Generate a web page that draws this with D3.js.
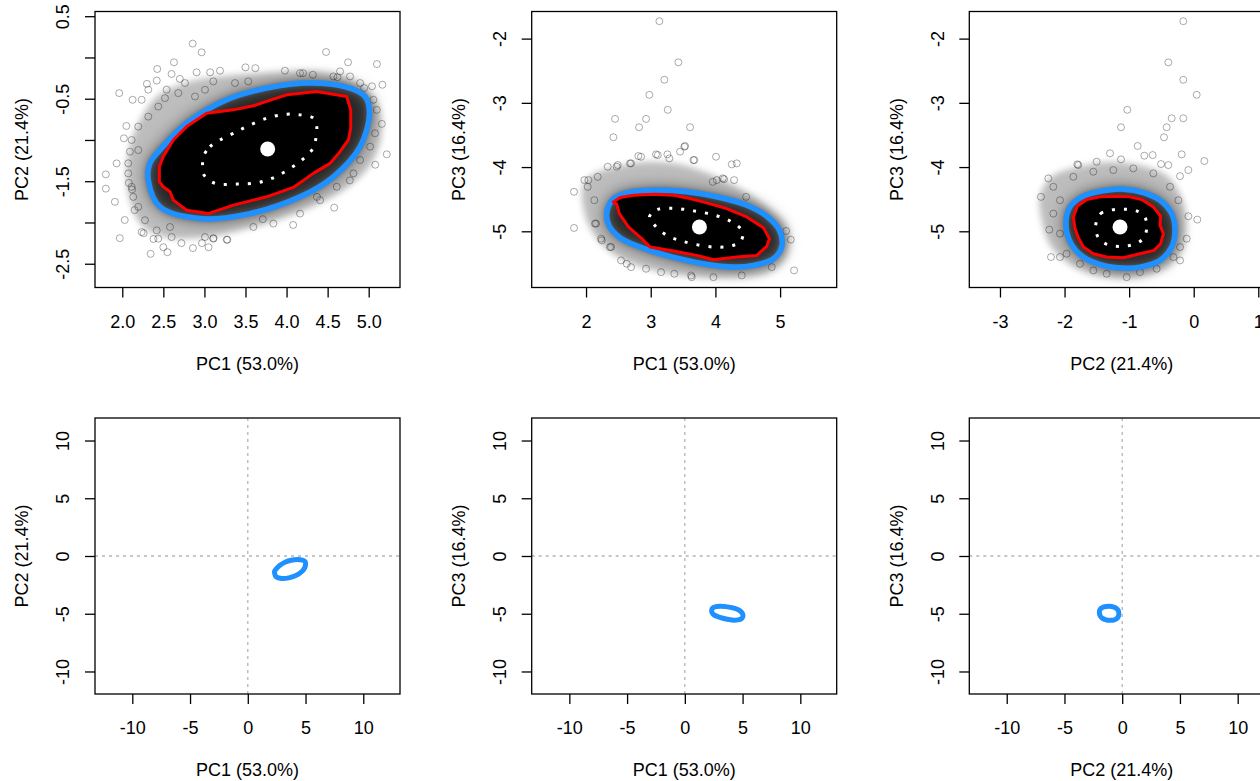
<!DOCTYPE html>
<html>
<head>
<meta charset="utf-8">
<script src="https://cdn.jsdelivr.net/npm/d3@7"></script>
<style>
  html, body { margin: 0; padding: 0; background: #fff; overflow: hidden; }
  svg text { font-family: "Liberation Sans", Arial, sans-serif; font-size: 18px; fill: #000; }
</style>
</head>
<body>
<div id="chart"></div>
<script>
// ---- data ----

// axis titles
const pc1Label = "PC1 (53.0%)";
const pc2Label = "PC2 (21.4%)";
const pc3Label = "PC3 (16.4%)";

// tick values (labelled ones listed separately, R drops overlapping labels)
const pc1pc2XTicks = [2.0, 2.5, 3.0, 3.5, 4.0, 4.5, 5.0];
const pc1pc2YTicks = [0.5, 0, -0.5, -1, -1.5, -2, -2.5];
const pc1pc2YLabelled = [0.5, -0.5, -1.5, -2.5];
const pc1pc3XTicks = [2, 3, 4, 5];
const pc2pc3XTicks = [-3, -2, -1, 0, 1];
const pc3YTicks = [-2, -3, -4, -5];
const wideTicks = [-10, -5, 0, 5, 10];

// centre of the cloud (white dot)
const pc1pc2Centre = [3.77, -1.109];
const pc1pc3Centre = [3.753, -4.932];
const pc2pc3Centre = [-1.141, -4.932];

// blue ellipse
const pc1pc2Blue = [[2.317,-1.486],[2.459,-1.81],[2.946,-1.952],[3.555,-1.892],[4.164,-1.689],[4.57,-1.446],
  [4.895,-1.081],[5.009,-0.675],[4.956,-0.473],[4.73,-0.36],[4.286,-0.31],[3.758,-0.372],[3.271,-0.513],
  [2.78,-0.80],[2.459,-1.12],[2.337,-1.28]];
const pc1pc3Blue = [[2.32,-4.724],[2.412,-4.505],[2.629,-4.401],[3.041,-4.359],[3.557,-4.385],[4.072,-4.474],
  [4.485,-4.594],[4.794,-4.766],[4.99,-4.984],[5.026,-5.234],[4.897,-5.427],[4.588,-5.531],[4.278,-5.557],
  [3.814,-5.505],[3.299,-5.391],[2.835,-5.245],[2.526,-5.099],[2.361,-4.922]];
const pc2pc3Blue = [[-1.978,-4.88],[-1.916,-4.62],[-1.709,-4.453],[-1.4,-4.37],[-1.09,-4.344],[-0.78,-4.396],
  [-0.522,-4.516],[-0.341,-4.724],[-0.29,-4.984],[-0.341,-5.245],[-0.522,-5.453],[-0.832,-5.557],
  [-1.09,-5.573],[-1.4,-5.531],[-1.709,-5.401],[-1.906,-5.182]];

// red contour
const pc1pc2Red = [[2.451,-1.507],[2.451,-1.324],[2.499,-1.202],[2.621,-1.0],[2.784,-0.838],[3.027,-0.676],
  [3.352,-0.635],[3.596,-0.586],[3.839,-0.505],[4.002,-0.453],[4.367,-0.412],[4.732,-0.473],[4.781,-0.635],
  [4.781,-0.858],[4.753,-1.0],[4.651,-1.142],[4.53,-1.284],[4.326,-1.405],[4.083,-1.575],[3.758,-1.689],
  [3.352,-1.79],[3.047,-1.892],[2.784,-1.851],[2.621,-1.729],[2.581,-1.628],[2.499,-1.567]];
const pc1pc3Red = [[2.423,-4.542],[2.526,-4.474],[2.732,-4.438],[3.041,-4.422],[3.351,-4.438],[3.608,-4.49],
  [3.866,-4.557],[4.175,-4.646],[4.485,-4.776],[4.742,-4.943],[4.835,-5.115],[4.794,-5.234],[4.639,-5.375],
  [4.33,-5.401],[3.969,-5.443],[3.711,-5.375],[3.351,-5.307],[2.99,-5.245],[2.861,-5.115],[2.655,-4.932],
  [2.515,-4.724],[2.474,-4.578]];
const pc2pc3Red = [[-1.864,-4.776],[-1.802,-4.609],[-1.658,-4.505],[-1.451,-4.464],[-1.193,-4.453],
  [-0.987,-4.464],[-0.806,-4.505],[-0.625,-4.62],[-0.512,-4.766],[-0.522,-4.906],[-0.47,-5.036],
  [-0.512,-5.193],[-0.615,-5.297],[-0.832,-5.349],[-1.09,-5.411],[-1.348,-5.401],[-1.554,-5.349],
  [-1.709,-5.245],[-1.787,-5.099],[-1.838,-4.958]];

// white dotted inner contour
const pc1pc2Inner = [[2.987,-1.202],[3.068,-1.081],[3.19,-1.0],[3.352,-0.919],[3.514,-0.838],[3.758,-0.736],
  [4.002,-0.688],[4.164,-0.696],[4.326,-0.736],[4.367,-0.838],[4.359,-0.959],[4.335,-1.081],[4.266,-1.17],
  [4.144,-1.275],[3.981,-1.385],[3.819,-1.466],[3.636,-1.519],[3.393,-1.535],[3.129,-1.527],[2.995,-1.425],
  [2.978,-1.316]];
const pc1pc3Inner = [[2.979,-4.776],[3.103,-4.661],[3.351,-4.641],[3.66,-4.682],[3.995,-4.75],[4.253,-4.854],
  [4.423,-5.01],[4.381,-5.167],[4.201,-5.234],[3.969,-5.245],[3.686,-5.203],[3.479,-5.151],[3.325,-5.099],
  [3.155,-5.0],[3.041,-4.88]];
const pc2pc3Inner = [[-1.503,-4.828],[-1.441,-4.724],[-1.296,-4.672],[-1.09,-4.656],[-0.883,-4.682],
  [-0.754,-4.786],[-0.728,-4.943],[-0.77,-5.099],[-0.894,-5.193],[-1.09,-5.234],[-1.296,-5.219],
  [-1.441,-5.141],[-1.513,-5.01]];

// outer edge of the dense point cloud
const pc1pc2Fringe = [[2.10,-1.05],[2.25,-0.70],[2.45,-0.45],[2.80,-0.30],[3.30,-0.22],[3.90,-0.18],[4.40,-0.17],
  [4.85,-0.30],[5.10,-0.55],[5.15,-0.95],[5.02,-1.30],[4.70,-1.60],[4.20,-1.85],[3.60,-2.05],[3.00,-2.18],
  [2.55,-2.18],[2.25,-2.05],[2.10,-1.75],[2.05,-1.40]];
const pc1pc3Fringe = [[1.95,-4.30],[2.10,-4.12],[2.45,-4.00],[2.90,-3.92],[3.40,-3.95],[3.90,-4.10],[4.40,-4.35],
  [4.85,-4.65],[5.12,-4.95],[5.10,-5.40],[4.80,-5.65],[4.20,-5.72],[3.60,-5.70],[2.95,-5.58],[2.50,-5.40],
  [2.20,-5.15],[2.00,-4.80]];
const pc2pc3Fringe = [[-2.38,-4.45],[-2.20,-4.15],[-1.80,-4.00],[-1.30,-3.92],[-0.80,-3.98],[-0.40,-4.15],
  [-0.18,-4.50],[-0.12,-4.90],[-0.18,-5.30],[-0.40,-5.55],[-0.90,-5.72],[-1.40,-5.70],[-1.85,-5.55],
  [-2.20,-5.25],[-2.35,-4.85]];

// single points visible around the dense cloud
const pc1pc2Outliers = [[2.857,0.168],[2.966,0.062],[2.629,-0.059],[2.426,-0.14],[4.481,0.066],[4.749,-0.059],
  [5.10,-0.08],[3.98,-0.16],[2.905,-0.18],[3.07,-0.18],[3.19,-0.16],[1.963,-0.432],[2.126,-0.513],
  [5.167,-0.331],[5.04,-0.35],[4.945,-0.37],[2.05,-0.83],[2.02,-0.98],[5.16,-0.805],[5.22,-1.174],
  [5.08,-1.30],[1.80,-1.417],[1.80,-1.59],[1.931,-1.284],[1.91,-1.75],[2.03,-1.97],[1.97,-2.19],
  [2.345,-2.38],[2.50,-2.30],[2.72,-2.25],[2.97,-2.25],[3.28,-2.21],[3.11,-2.19],[4.08,-2.03],
  [4.58,-1.82],[4.37,-1.69],[4.77,-1.49],[3.71,-1.96],[2.26,-2.13],[2.30,-0.32],[2.42,-0.28],
  [3.50,-0.12],[3.62,-0.13],[4.20,-0.19],[4.32,-0.21],[4.62,-0.24],[2.60,-0.20],[2.70,-0.26],
  [2.12,-1.60],[2.08,-1.52],[2.15,-1.85],[2.38,-2.20],[2.55,-2.36],[2.86,-2.31],[3.05,-2.30],
  [2.236,-0.513],[2.317,-0.39],[2.54,-0.39],[2.763,-0.31],[3.534,-0.29],[2.195,-0.838],[2.073,-1.405],
  [2.114,-1.568],[2.134,-1.69],[2.195,-1.811],[2.276,-1.973],[2.236,-2.116],[2.419,-2.095],[2.581,-2.055],
  [2.438,-2.196],[2.601,-2.176],[3.007,-2.176],[3.108,-2.196],[3.271,-2.208],[2.114,-1.0],[2.195,-1.122],
  [2.094,-1.142],[2.073,-1.283],[2.317,-0.717],[2.438,-0.595],[2.52,-0.493],[2.682,-0.432],[2.885,-0.473],
  [3.007,-0.392],[3.108,-0.29],[3.372,-0.31],[5.057,-0.513],[5.098,-0.635],[5.077,-0.919],[5.017,-1.081],
  [4.895,-1.243],[4.814,-1.405],[4.611,-1.567],[4.408,-1.73],[4.164,-1.892],[3.839,-2.013],[3.596,-2.054],
  [4.57,-0.23],[4.773,-0.23],[4.895,-0.31],[4.164,-0.19],[4.651,-0.169]];
const pc1pc3Outliers = [[3.134,-1.729],[3.428,-2.37],[3.211,-2.641],[2.979,-2.875],[3.263,-3.109],
  [2.448,-3.25],[2.928,-3.25],[2.82,-3.38],[3.608,-3.38],[2.423,-3.536],[3.531,-3.672],[2.809,-3.828],
  [3.082,-3.802],[3.258,-3.802],[3.454,-3.76],[3.66,-3.891],[4.253,-3.958],[4.33,-3.943],[4.021,-4.203],
  [4.134,-4.188],[4.289,-4.203],[4.474,-4.464],[1.814,-4.385],[1.814,-4.948],[2.036,-4.203],[2.139,-4.88],
  [2.242,-5.141],[2.371,-5.245],[5.093,-4.995],[5.165,-5.13],[5.216,-5.609],[4.871,-5.557],[4.407,-5.687],
  [3.969,-5.714],[3.634,-5.714],[2.629,-5.505],[2.474,-3.995],[2.68,-3.943],
  [1.974,-4.203],[2.128,-4.516],[2.155,-4.88],[2.232,-5.114],[2.49,-3.969],[2.696,-3.943],[2.85,-3.839],
  [3.109,-3.813],[3.288,-3.865],[3.52,-3.683],[3.675,-3.891],[4.01,-3.839],[4.114,-4.177],[3.959,-4.23],
  [2.387,-5.245],[2.541,-5.453],[2.696,-5.558],[2.928,-5.583],[3.16,-5.636],[3.365,-5.661],[3.624,-5.688],
  [2.335,-3.995],[2.181,-4.152],[2.026,-4.308]];
const pc2pc3Outliers = [[-0.161,-1.729],[-0.393,-2.37],[-0.161,-2.641],[0.046,-2.875],[-1.028,-3.109],
  [-0.341,-3.24],[-0.161,-3.24],[-1.126,-3.38],[-0.419,-3.38],[-0.46,-3.536],[-0.868,-3.672],
  [-0.186,-3.802],[0.165,-3.906],[-1.296,-3.786],[-1.126,-3.88],[-0.765,-3.823],[-0.636,-3.813],
  [-0.506,-3.953],[-0.393,-3.969],[-0.083,-4.047],[-0.212,-4.141],[-1.787,-3.969],[-1.503,-3.917],
  [-2.365,-4.464],[-2.251,-4.177],[-2.236,-4.974],[-2.21,-5.401],[-0.083,-4.766],[0.056,-4.818],
  [-0.109,-5.115],[-0.212,-5.453],[-1.038,-5.714],[-2.071,-5.401],
  [-2.174,-4.307],[-2.071,-4.516],[-2.174,-4.724],[-2.071,-5.036],[-1.967,-5.349],[-1.761,-5.505],
  [-1.554,-5.609],[-1.348,-5.661],[-0.832,-5.635],[-0.574,-5.583],[-0.315,-5.401],[-0.212,-5.245],
  [-0.238,-4.516],[-0.367,-4.307],[-0.625,-4.099],[-0.935,-4.021],[-1.245,-4.047],[-1.554,-4.073],
  [-1.864,-4.151],[-1.802,-3.958]];

// ---- layout ----
const width = 1260, height = 781;
const boxW = 305, boxH = 276;
const colX = [95, 531.7, 969.3];
const rowY = [11.5, 418];

const panels = [
  { col: 0, row: 0, xDomain: [1.668, 5.381], yDomain: [-2.788, 0.557],
    xTicks: pc1pc2XTicks, xFmt: d3.format(".1f"), yTicks: pc1pc2YTicks, yLabelled: pc1pc2YLabelled,
    xTitle: pc1Label, yTitle: pc2Label, cloud: { fringe: pc1pc2Fringe, blue: pc1pc2Blue, red: pc1pc2Red,
    inner: pc1pc2Inner, centre: pc1pc2Centre, outliers: pc1pc2Outliers } },
  { col: 1, row: 0, xDomain: [1.160, 5.875], yDomain: [-5.875, -1.578],
    xTicks: pc1pc3XTicks, yTicks: pc3YTicks, xTitle: pc1Label, yTitle: pc3Label,
    cloud: { fringe: pc1pc3Fringe, blue: pc1pc3Blue, red: pc1pc3Red, inner: pc1pc3Inner,
    centre: pc1pc3Centre, outliers: pc1pc3Outliers } },
  { col: 2, row: 0, xDomain: [-3.475, 1.248], yDomain: [-5.875, -1.578],
    xTicks: pc2pc3XTicks, yTicks: pc3YTicks, xTitle: pc2Label, yTitle: pc3Label,
    cloud: { fringe: pc2pc3Fringe, blue: pc2pc3Blue, red: pc2pc3Red, inner: pc2pc3Inner,
    centre: pc2pc3Centre, outliers: pc2pc3Outliers } },
  { col: 0, row: 1, xDomain: [-13.23, 13.18], yDomain: [-11.95, 11.95],
    xTicks: wideTicks, yTicks: wideTicks, xTitle: pc1Label, yTitle: pc2Label, ring: pc1pc2Blue },
  { col: 1, row: 1, xDomain: [-13.26, 13.15], yDomain: [-11.95, 11.95],
    xTicks: wideTicks, yTicks: wideTicks, xTitle: pc1Label, yTitle: pc3Label, ring: pc1pc3Blue },
  { col: 2, row: 1, xDomain: [-13.24, 13.17], yDomain: [-11.95, 11.95],
    xTicks: wideTicks, yTicks: wideTicks, xTitle: pc2Label, yTitle: pc3Label, ring: pc2pc3Blue }
];

const svg = d3.select("#chart").append("svg")
    .attr("width", width)
    .attr("height", height);

const defs = svg.append("defs");
defs.append("filter").attr("id", "blurWide")
    .attr("x", "-30%").attr("y", "-30%").attr("width", "160%").attr("height", "160%")
    .append("feGaussianBlur").attr("stdDeviation", 9);
defs.append("filter").attr("id", "blurSoft")
    .attr("x", "-30%").attr("y", "-30%").attr("width", "160%").attr("height", "160%")
    .append("feGaussianBlur").attr("stdDeviation", 3);

panels.forEach((p, i) => {
    const left = colX[p.col], top = rowY[p.row];
    const g = svg.append("g").attr("transform", `translate(${left},${top})`);

    const x = d3.scaleLinear().domain(p.xDomain).range([0, boxW]);
    const y = d3.scaleLinear().domain(p.yDomain).range([boxH, 0]);

    defs.append("clipPath").attr("id", "clip" + i)
        .append("rect").attr("width", boxW).attr("height", boxH);

    const plot = g.append("g").attr("clip-path", `url(#clip${i})`);

    const smooth = d3.line().x(d => x(d[0])).y(d => y(d[1])).curve(d3.curveCatmullRomClosed);
    const jagged = d3.line().x(d => x(d[0])).y(d => y(d[1])).curve(d3.curveLinearClosed);

    if (p.cloud) {
        const c = p.cloud;
        // density of the overplotted points
        plot.append("path").attr("d", smooth(c.fringe))
            .attr("fill", "#000").attr("fill-opacity", 0.26).attr("filter", "url(#blurSoft)");
        plot.append("path").attr("d", smooth(c.blue))
            .attr("fill", "#000").attr("fill-opacity", 0.65).attr("filter", "url(#blurWide)");
        plot.append("path").attr("d", smooth(c.blue))
            .attr("fill", "#000").attr("fill-opacity", 0.45).attr("filter", "url(#blurSoft)");
        plot.append("path").attr("d", jagged(c.red)).attr("fill", "#000");

        plot.append("g").selectAll("circle")
            .data(c.outliers)
            .enter().append("circle")
            .attr("cx", d => x(d[0]))
            .attr("cy", d => y(d[1]))
            .attr("r", 3.5)
            .attr("fill", "none")
            .attr("stroke", "#000")
            .attr("stroke-opacity", 0.33)
            .attr("stroke-width", 1);

        plot.append("path").attr("d", smooth(c.blue))
            .attr("fill", "none").attr("stroke", "#1E90FF").attr("stroke-width", 5.5);
        plot.append("path").attr("d", jagged(c.red))
            .attr("fill", "none").attr("stroke", "#FF0000").attr("stroke-width", 3)
            .attr("stroke-linejoin", "round");
        plot.append("path").attr("d", smooth(c.inner))
            .attr("fill", "none").attr("stroke", "#fff").attr("stroke-width", 3)
            .attr("stroke-dasharray", "3,9");
        plot.append("circle")
            .attr("cx", x(c.centre[0])).attr("cy", y(c.centre[1]))
            .attr("r", 7.5).attr("fill", "#fff");
    } else {
        // reference lines through the origin
        plot.append("line")
            .attr("x1", x(0)).attr("x2", x(0)).attr("y1", 0).attr("y2", boxH)
            .attr("stroke", "#b4b4b4").attr("stroke-width", 1.3).attr("stroke-dasharray", "3,4");
        plot.append("line")
            .attr("x1", 0).attr("x2", boxW).attr("y1", y(0)).attr("y2", y(0))
            .attr("stroke", "#b4b4b4").attr("stroke-width", 1.3).attr("stroke-dasharray", "3,4");
        plot.append("path").attr("d", smooth(p.ring))
            .attr("fill", "none").attr("stroke", "#1E90FF").attr("stroke-width", 5);
    }

    // box
    g.append("rect")
        .attr("width", boxW).attr("height", boxH)
        .attr("fill", "none").attr("stroke", "#000").attr("stroke-width", 1.3);

    // x axis (plain hyphen minus, as in base R)
    const xAxis = g.append("g")
        .attr("transform", `translate(0,${boxH})`)
        .call(d3.axisBottom(x).tickValues(p.xTicks).tickSize(10)
            .tickFormat(p.xFmt || (d => String(d))));
    xAxis.select(".domain").remove();
    xAxis.selectAll("line").attr("stroke", "#000").attr("stroke-width", 1.3);
    xAxis.selectAll("text")
        .attr("y", 34).attr("dy", "0.36em")
        .attr("font-size", null).attr("font-family", null);

    // y axis, labels rotated like base R
    const labelled = p.yLabelled || p.yTicks;
    const yAxis = g.append("g")
        .call(d3.axisLeft(y).tickValues(p.yTicks).tickSize(10)
            .tickFormat(d => labelled.includes(d) ? String(d) : ""));
    yAxis.select(".domain").remove();
    yAxis.selectAll("line").attr("stroke", "#000").attr("stroke-width", 1.3);
    yAxis.selectAll("text")
        .attr("x", null).attr("dy", "0.36em")
        .attr("text-anchor", "middle")
        .attr("transform", "translate(-32,0) rotate(-90)")
        .attr("font-size", null).attr("font-family", null);

    // titles
    g.append("text")
        .attr("x", boxW / 2).attr("y", boxH + 76).attr("dy", "0.36em")
        .attr("text-anchor", "middle")
        .text(p.xTitle);
    g.append("text")
        .attr("transform", `translate(-73,${boxH / 2}) rotate(-90)`)
        .attr("dy", "0.36em")
        .attr("text-anchor", "middle")
        .text(p.yTitle);
});
</script>
</body>
</html>
